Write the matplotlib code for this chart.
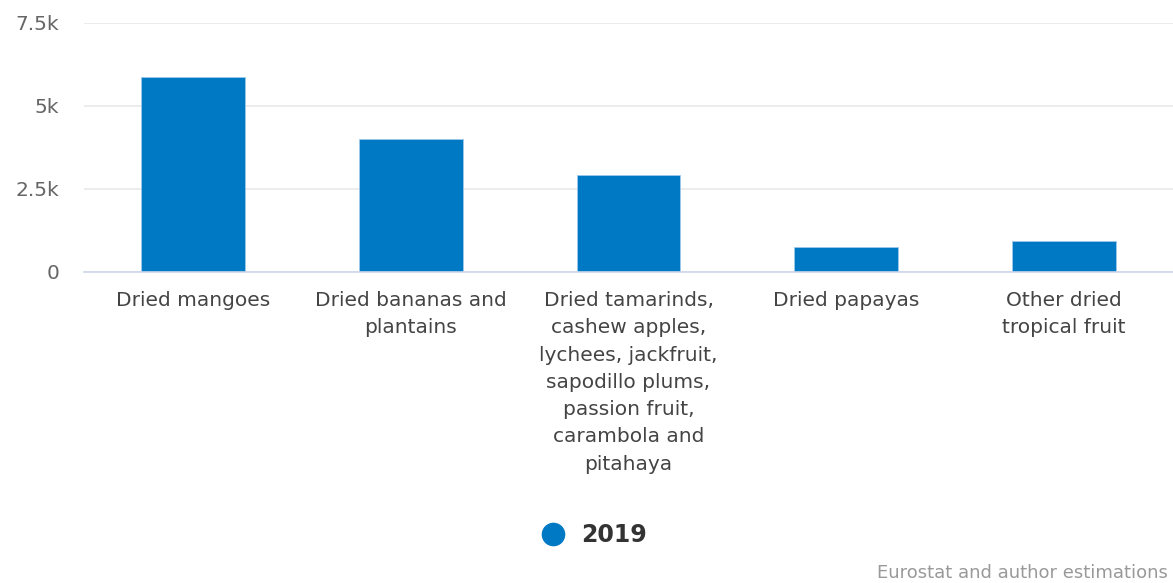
import matplotlib
matplotlib.use('Agg')

import matplotlib.pyplot as plt
import numpy as np
from matplotlib.lines import Line2D

plt.rcParams['font.family'] = ['DejaVu Sans']

# 数据
categories = [
    'Dried mangoes',
    'Dried bananas and\nplantains',
    'Dried tamarinds,\ncashew apples,\nlychees, jackfruit,\nsapodillo plums,\npassion fruit,\ncarambola and\npitahaya',
    'Dried papayas',
    'Other dried\ntropical fruit',
]
values_2019 = [5880, 4000, 2920, 745, 925]
series_name = '2019'
y_ticks = [0, 2500, 5000, 7500]
y_tick_labels = ['0', '2.5k', '5k', '7.5k']

bar_color = '#0079c5'

fig = plt.figure(figsize=(11.73, 5.83), dpi=100)
ax = fig.add_axes([84 / 1173, 1 - 271.7 / 583, 1 - 84 / 1173, (271.7 - 23) / 583])

x = np.arange(len(categories))
ax.bar(x, values_2019, width=0.477, color=bar_color, edgecolor='#9fc9ea', linewidth=0.6, zorder=3)

ax.set_xlim(-0.5, len(categories) - 0.5)
ax.set_ylim(0, 7500)
ax.set_yticks(y_ticks)
ax.set_yticklabels(y_tick_labels)
ax.set_xticks(x)
ax.set_xticklabels(categories, fontsize=14.5, color='#444444', linespacing=1.55, va='top')

ax.tick_params(axis='y', length=0, pad=18, labelsize=14.5, labelcolor='#666666')
ax.tick_params(axis='x', length=0, pad=14)

ax.grid(axis='y', color='#e9e9e9', linewidth=1.2, zorder=0)
for s in ['top', 'right', 'left']:
    ax.spines[s].set_visible(False)
ax.spines['bottom'].set_color('#ccd6eb')
ax.spines['bottom'].set_linewidth(1.2)
ax.spines['bottom'].set_zorder(4)

# 图例
handle = Line2D([], [], marker='o', linestyle='none', markersize=16,
                markerfacecolor=bar_color, markeredgecolor=bar_color)
leg = fig.legend([handle], [series_name], loc='center', bbox_to_anchor=(588 / 1173, 1 - 535 / 583),
                 frameon=False, handletextpad=0.2, prop={'size': 17, 'weight': 'bold'})
for t in leg.get_texts():
    t.set_color('#333333')

fig.text(1168 / 1173, 1 - 573 / 583, 'Eurostat and author estimations',
         ha='right', va='center', fontsize=13, color='#999999')

fig.savefig('out.png', dpi=100)
